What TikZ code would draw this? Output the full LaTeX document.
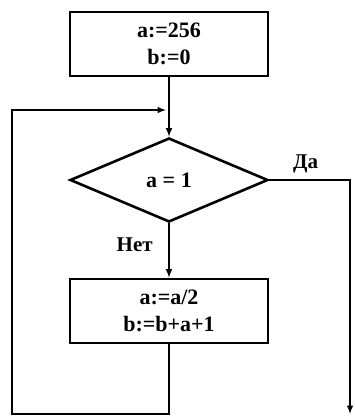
\documentclass[tikz,border=0pt]{standalone}
\usepackage{fontspec}
\setmainfont{Liberation Serif}
\usepackage{tikz}
\usetikzlibrary{shapes.geometric, calc}
\tikzstyle{block}=[draw, line width=2.6pt, minimum width=198pt, minimum height=64pt, inner sep=0, align=center, font=\fontsize{22}{27}\selectfont\bfseries]
\tikzstyle{test}=[draw, diamond, line width=2.6pt, minimum width=198pt, minimum height=84pt, inner sep=0, font=\fontsize{22}{27}\selectfont\bfseries]
\tikzstyle{flow}=[line width=1.9pt]
\tikzstyle{answer}=[font=\fontsize{21}{24}\selectfont\bfseries]

\begin{document}
\begin{tikzpicture}[x=1pt,y=-1pt]
\useasboundingbox (0,0) rectangle (355,416);
\node[block] (init) at (169,44) {a:=256\\b:=0};
\node[test] (cond) at (169,180) {a = 1};
\node[block] (step) at (169,311) {a:=a/2\\b:=b+a+1};
\coordinate (join) at (169,110);
\coordinate (back) at (169,414);
\coordinate (left) at (12,414);
\coordinate (top) at (12,110);
\coordinate (turn) at (350,180);
\coordinate (out) at (350,414);
\draw[flow, -latex] (init.south)--(cond.north);
\draw[flow, -latex] (step.south)--(back)--(left)--(top)--($(join)+(-3,0)$);
\draw[flow, -latex] (cond.south)--(step.north) node[pos=.4, answer, left=12pt]{Нет};
\draw[flow, -latex] (cond.east)--(turn) node[pos=.45, answer, above=3pt]{Да}--(out);
\end{tikzpicture}
\end{document}
